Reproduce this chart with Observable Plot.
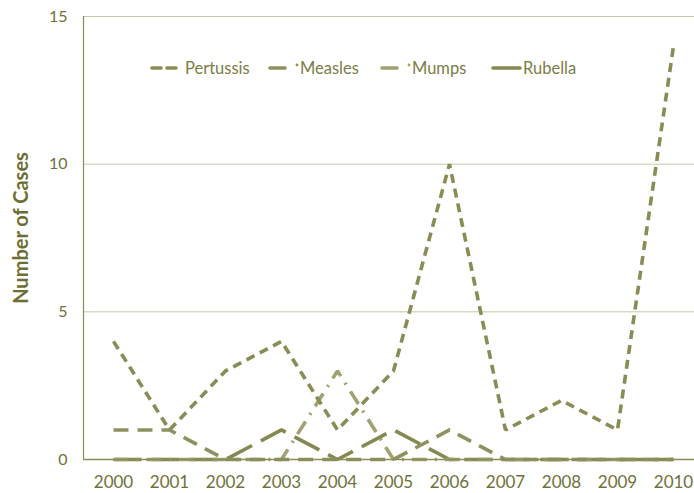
<!DOCTYPE html>
<html>
<head>
<meta charset="utf-8">
<script src="https://cdn.jsdelivr.net/npm/d3@7"></script>
<script src="https://cdn.jsdelivr.net/npm/@observablehq/plot@0.6"></script>
<style>
  html, body { margin: 0; padding: 0; background: #fff; }
  #wrap { position: relative; width: 694px; height: 493px; font-family: Lato, "Open Sans", sans-serif; overflow: hidden; }
  #wrap svg.plot text { fill: #6e7139; }
  g[aria-label="y-axis label"] text { font-weight: bold; font-size: 20px; fill: #6b6f33 !important; }
  #legend { position: absolute; left: 0; top: 0; pointer-events: none; }
  #legend text { font-family: Lato, "Open Sans", sans-serif; font-size: 16.5px; fill: #7a7d45; }
</style>
</head>
<body>
<div id="wrap"></div>
<script>
const years = ["2000","2001","2002","2003","2004","2005","2006","2007","2008","2009","2010"];
const pertussis = [4, 1, 3, 4, 1, 3, 10, 1, 2, 1, 14];
const measles   = [1, 1, 0, 0, 0, 0, 1, 0, 0, 0, 0];
const mumps     = [0, 0, 0, 0, 3, 0, 0, 0, 0, 0, 0];
const rubella   = [0, 0, 0, 1, 0, 1, 0, 0, 0, 0, 0];
const seriesNames = ["Pertussis", "Measles", "Mumps", "Rubella"];
const yTicks = [0, 5, 10, 15];

const styles = {
  Pertussis: {stroke: "#8a8c55", dash: "9,6"},
  Measles:   {stroke: "#8e9060", dash: "15,9"},
  Mumps:     {stroke: "#a0a272", dash: "15,8,2,8"},
  Rubella:   {stroke: "#858850", dash: "28,10"}
};
const valuesBy = {Pertussis: pertussis, Measles: measles, Mumps: mumps, Rubella: rubella};
const rows = name => years.map((y, i) => ({year: y, value: valuesBy[name][i]}));

const drawOrder = ["Rubella", "Mumps", "Measles", "Pertussis"];

const chart = Plot.plot({
  width: 694,
  height: 493,
  marginLeft: 83,
  marginRight: 0,
  marginTop: 16,
  marginBottom: 34,
  style: {fontFamily: "Lato, 'Open Sans', sans-serif", fontSize: "16px", color: "#6e7139", background: "#fff", overflow: "hidden"},
  x: {type: "point", domain: years, range: [110.6, 675], padding: 0},
  y: {domain: [0, 15]},
  marks: [
    Plot.ruleY([5, 10, 15], {stroke: "#c5c7a8", strokeWidth: 1, strokeOpacity: 1}),
    Plot.axisY({ticks: yTicks, tickSize: 0, tickPadding: 16, label: "Number of Cases", labelAnchor: "center", labelArrow: "none", labelOffset: 70, fontSize: 16}),
    Plot.axisX({tickSize: 0, tickPadding: 16, label: null, fontSize: 17}),
    ...drawOrder.map(name => Plot.line(rows(name), {
      x: "year", y: "value",
      stroke: styles[name].stroke,
      strokeWidth: 3.6,
      strokeDasharray: styles[name].dash,
      strokeLinejoin: "miter",
      strokeLinecap: "butt"
    })),
    Plot.frame({anchor: "left", stroke: "#8a8c55", strokeWidth: 1.2}),
    Plot.ruleY([0], {stroke: "#8a8c55", strokeWidth: 1.5})
  ]
});
chart.classList.add("plot");
document.getElementById("wrap").appendChild(chart);
d3.select(chart).select('g[aria-label="y-axis label"] text').attr("dx", 10);

// Legend overlay
const ns = "http://www.w3.org/2000/svg";
const leg = document.createElementNS(ns, "svg");
leg.setAttribute("id", "legend");
leg.setAttribute("width", 694);
leg.setAttribute("height", 493);
const legendItems = [
  {name: "Pertussis", x1: 152, x2: 176, tx: 185, dot: null},
  {name: "Measles", x1: 270, x2: 285, tx: 300, dot: 297},
  {name: "Mumps", x1: 382, x2: 397, tx: 412, dot: 409},
  {name: "Rubella", x1: 493, x2: 520, tx: 523, dot: null}
];
const ly = 68;
for (const it of legendItems) {
  const s = styles[it.name];
  const ln = document.createElementNS(ns, "line");
  ln.setAttribute("x1", it.x1); ln.setAttribute("x2", it.x2);
  ln.setAttribute("y1", ly); ln.setAttribute("y2", ly);
  ln.setAttribute("stroke", s.stroke);
  ln.setAttribute("stroke-width", 3.6);
  ln.setAttribute("stroke-linecap", "round");
  if (it.name === "Pertussis") ln.setAttribute("stroke-dasharray", "9,6");
  leg.appendChild(ln);
  if (it.dot) {
    const c = document.createElementNS(ns, "circle");
    c.setAttribute("cx", it.dot); c.setAttribute("cy", ly - 3); c.setAttribute("r", 1.4);
    c.setAttribute("fill", s.stroke);
    leg.appendChild(c);
  }
  const t = document.createElementNS(ns, "text");
  t.setAttribute("x", it.tx); t.setAttribute("y", ly + 6);
  t.textContent = it.name;
  leg.appendChild(t);
}
document.getElementById("wrap").appendChild(leg);
</script>
</body>
</html>
